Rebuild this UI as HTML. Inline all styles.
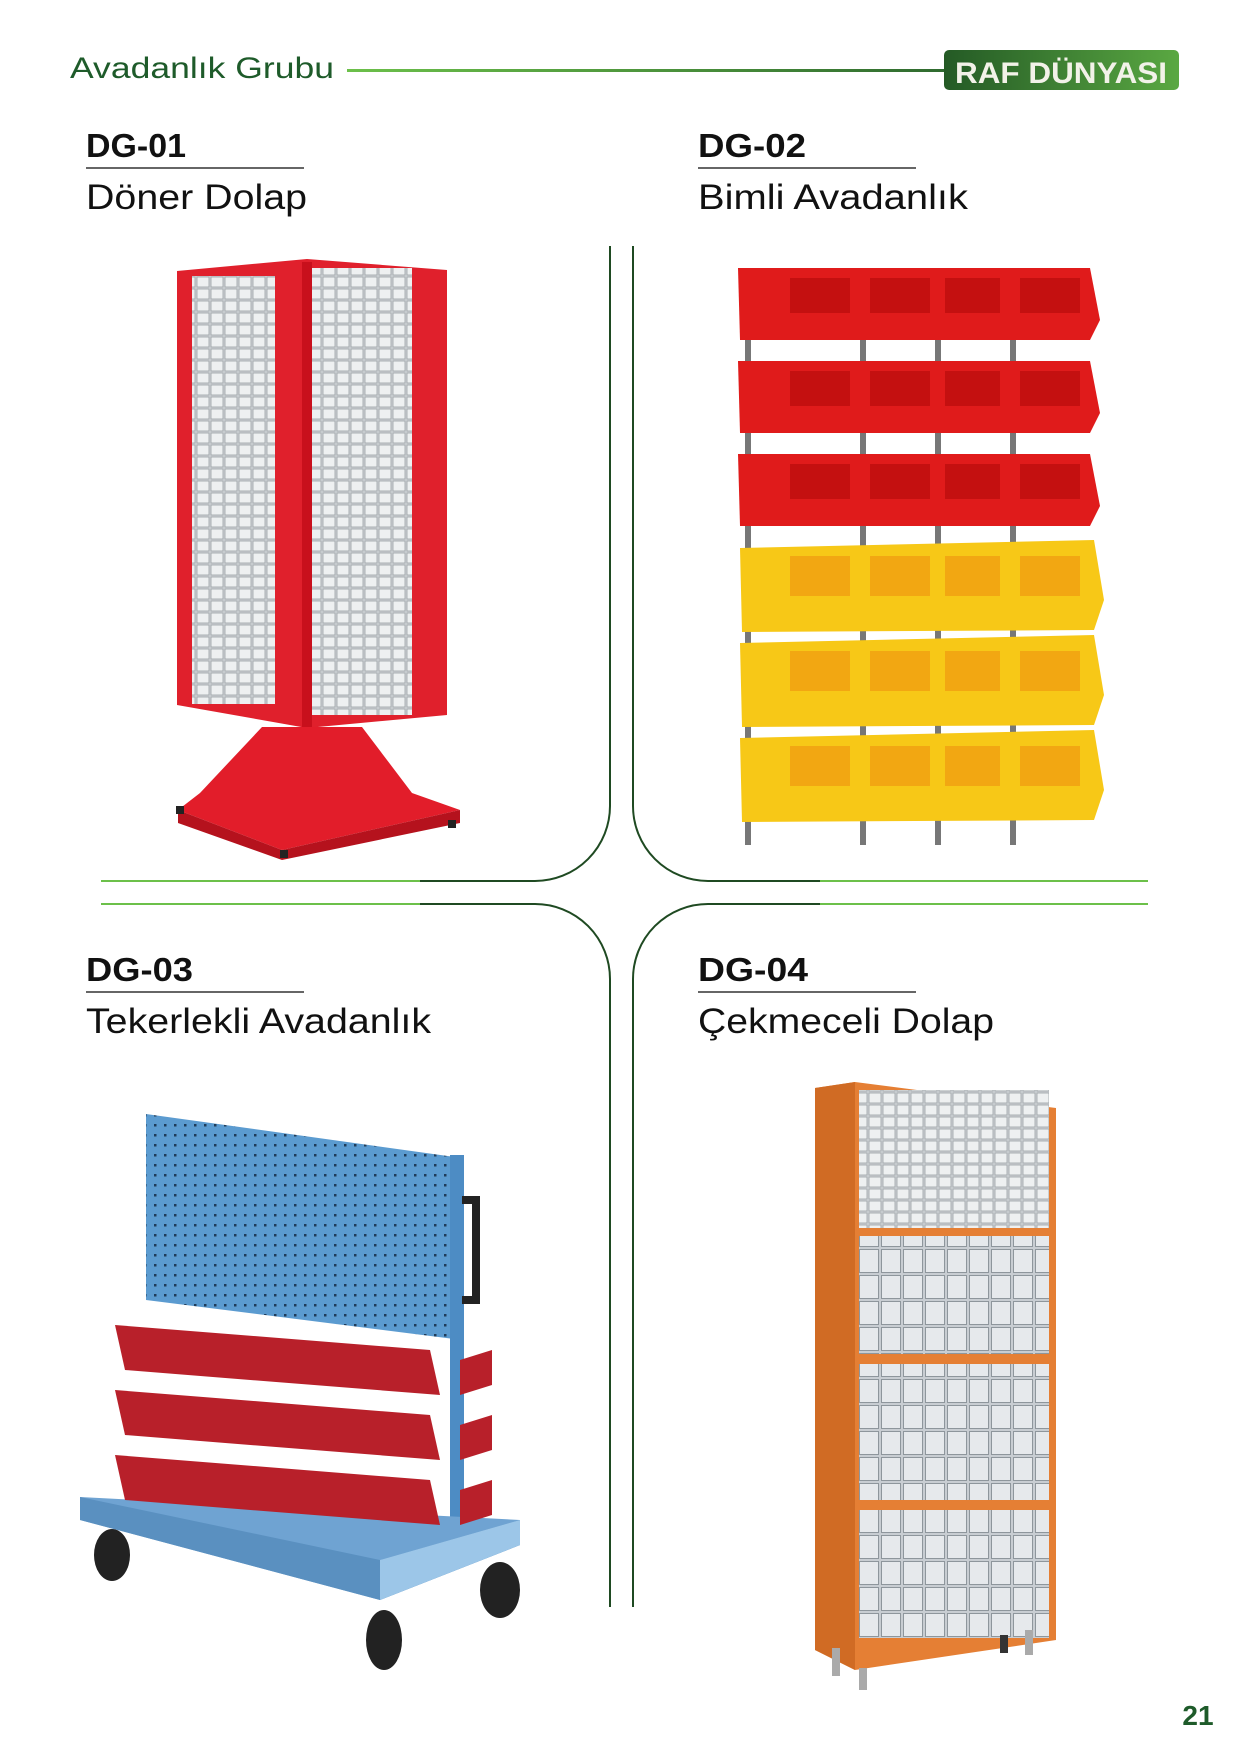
<!DOCTYPE html>
<html><head><meta charset="utf-8"><style>
html,body{margin:0;padding:0;background:#fff}
svg{display:block}
text{font-family:"Liberation Sans",sans-serif}
</style></head><body>
<svg width="1240" height="1754" viewBox="0 0 1240 1754" xmlns="http://www.w3.org/2000/svg">
<defs>
<linearGradient id="hl" x1="0" x2="1"><stop offset="0" stop-color="#6cc04a"/><stop offset="1" stop-color="#2f6a2f"/></linearGradient>
<linearGradient id="bd" x1="0" x2="1"><stop offset="0" stop-color="#245a25"/><stop offset="1" stop-color="#5aa842"/></linearGradient>
<pattern id="grid1" width="14" height="12" patternUnits="userSpaceOnUse"><rect width="14" height="12" fill="#cfd3d6"/><rect x="1" y="1" width="12" height="10" fill="#eef0f1" stroke="#9aa0a4" stroke-width="0.8"/></pattern>
<pattern id="grid4" width="22" height="26" patternUnits="userSpaceOnUse"><rect width="22" height="26" fill="#c8cdd2"/><rect x="1.5" y="1.5" width="19" height="23" fill="#e6e9ec" stroke="#8e969c" stroke-width="1"/></pattern>
<pattern id="peg" width="10" height="10" patternUnits="userSpaceOnUse"><rect width="10" height="10" fill="#5b9bd0"/><rect x="4" y="4" width="2.5" height="2.5" fill="#1f3c5a"/></pattern>
</defs>

<!-- header -->
<text x="70" y="78" font-size="30" fill="#1e5b2a" textLength="264" lengthAdjust="spacingAndGlyphs">Avadanlık Grubu</text>
<rect x="347" y="69" width="600" height="3" fill="url(#hl)"/>
<rect x="944" y="50" width="235" height="40" rx="5" fill="url(#bd)"/>
<text x="955" y="83" font-size="30" font-weight="bold" fill="#f2f2e8" textLength="212" lengthAdjust="spacingAndGlyphs">RAF DÜNYASI</text>

<!-- titles -->
<text x="86" y="157" font-size="33" font-weight="bold" fill="#111" textLength="100" lengthAdjust="spacingAndGlyphs">DG-01</text>
<rect x="86" y="167" width="218" height="2" fill="#666"/>
<text x="86" y="209" font-size="35" fill="#111" textLength="221" lengthAdjust="spacingAndGlyphs">Döner Dolap</text>
<text x="698" y="157" font-size="33" font-weight="bold" fill="#111" textLength="108" lengthAdjust="spacingAndGlyphs">DG-02</text>
<rect x="698" y="167" width="218" height="2" fill="#666"/>
<text x="698" y="209" font-size="35" fill="#111" textLength="270" lengthAdjust="spacingAndGlyphs">Bimli Avadanlık</text>
<text x="86" y="981" font-size="33" font-weight="bold" fill="#111" textLength="107" lengthAdjust="spacingAndGlyphs">DG-03</text>
<rect x="86" y="991" width="218" height="2" fill="#666"/>
<text x="86" y="1033" font-size="35" fill="#111" textLength="345" lengthAdjust="spacingAndGlyphs">Tekerlekli Avadanlık</text>
<text x="698" y="981" font-size="33" font-weight="bold" fill="#111" textLength="110" lengthAdjust="spacingAndGlyphs">DG-04</text>
<rect x="698" y="991" width="218" height="2" fill="#666"/>
<text x="698" y="1033" font-size="35" fill="#111" textLength="296" lengthAdjust="spacingAndGlyphs">Çekmeceli Dolap</text>

<!-- dividers -->
<g fill="none" stroke="#1f4a22" stroke-width="2">
<path d="M610 246 V806 A75 75 0 0 1 535 881 H101"/>
<path d="M633 246 V806 A75 75 0 0 0 708 881 H1148"/>
<path d="M101 904 H535 A75 75 0 0 1 610 979 V1607"/>
<path d="M1148 904 H708 A75 75 0 0 0 633 979 V1607"/>
</g>
<g fill="none" stroke="#6cc04a" stroke-width="2">
<path d="M101 881 H420"/><path d="M101 904 H420"/>
<path d="M820 881 H1148"/><path d="M820 904 H1148"/>
</g>

<text x="1198" y="1725" font-size="28" font-weight="bold" fill="#1e5b2a" text-anchor="middle">21</text>

<!-- DG-01 rotating cabinet -->
<g>
<polygon points="177,271 307,259 447,270 447,715 307,728 177,705" fill="#e0202c"/>
<rect x="192" y="276" width="83" height="428" fill="url(#grid1)"/>
<rect x="312" y="268" width="100" height="447" fill="url(#grid1)"/>
<rect x="302" y="262" width="10" height="465" fill="#c8101c"/>
<polygon points="262,727 362,727 412,793 460,810 282,850 178,810 200,793" fill="#e21d2a"/>
<polygon points="178,810 282,850 460,810 460,823 282,860 178,823" fill="#b5121d"/>
<rect x="280" y="850" width="8" height="8" fill="#222"/><rect x="448" y="820" width="8" height="8" fill="#222"/><rect x="176" y="806" width="8" height="8" fill="#222"/>
</g>

<!-- DG-02 bins -->
<g>
<rect x="745" y="270" width="6" height="575" fill="#777"/>
<rect x="860" y="270" width="6" height="575" fill="#777"/>
<rect x="935" y="270" width="6" height="575" fill="#777"/>
<rect x="1010" y="270" width="6" height="575" fill="#777"/>
<g id="rrow">
<polygon points="738,268 1090,268 1100,320 1090,340 740,340" fill="#e01b1b"/>
<rect x="790" y="278" width="60" height="35" fill="#c41010"/><rect x="870" y="278" width="60" height="35" fill="#c41010"/><rect x="945" y="278" width="55" height="35" fill="#c41010"/><rect x="1020" y="278" width="60" height="35" fill="#c41010"/>
</g>
<use href="#rrow" y="93"/><use href="#rrow" y="186"/>
<g id="yrow">
<polygon points="740,548 1094,540 1104,600 1094,630 742,632" fill="#f7c817"/>
<rect x="790" y="556" width="60" height="40" fill="#f2a712"/><rect x="870" y="556" width="60" height="40" fill="#f2a712"/><rect x="945" y="556" width="55" height="40" fill="#f2a712"/><rect x="1020" y="556" width="60" height="40" fill="#f2a712"/>
</g>
<use href="#yrow" y="95"/><use href="#yrow" y="190"/>
</g>

<!-- DG-03 trolley -->
<g>
<polygon points="146,1114 462,1158 462,1340 146,1300" fill="url(#peg)"/>
<rect x="450" y="1155" width="14" height="390" fill="#4d8cc4"/>
<path d="M462 1200 h14 v100 h-14" fill="none" stroke="#222" stroke-width="8"/>
<polygon points="80,1497 520,1520 520,1545 380,1600 80,1520" fill="#6fa3d2"/>
<polygon points="80,1497 380,1560 520,1520 520,1545 380,1600 80,1520" fill="#5a90c0"/>
<polygon points="380,1560 520,1520 520,1545 380,1600" fill="#9cc6e8"/>
<g fill="#b8202a">
<polygon points="115,1325 430,1350 440,1395 125,1370"/>
<polygon points="115,1390 430,1415 440,1460 125,1435"/>
<polygon points="115,1455 430,1480 440,1525 125,1500"/>
<polygon points="460,1360 492,1350 492,1385 460,1395"/>
<polygon points="460,1425 492,1415 492,1450 460,1460"/>
<polygon points="460,1490 492,1480 492,1515 460,1525"/>
</g>
<g fill="#222"><ellipse cx="112" cy="1555" rx="18" ry="26"/><ellipse cx="384" cy="1640" rx="18" ry="30"/><ellipse cx="500" cy="1590" rx="20" ry="28"/></g>
</g>

<!-- DG-04 drawer cabinet -->
<g>
<polygon points="815,1088 855,1082 1056,1108 1056,1640 855,1670 815,1650" fill="#e57f34"/>
<polygon points="815,1088 855,1082 855,1670 815,1650" fill="#d06b24"/>
<rect x="859" y="1090" width="190" height="138" fill="url(#grid1)"/>
<rect x="859" y="1236" width="190" height="118" fill="url(#grid4)"/>
<rect x="859" y="1364" width="190" height="136" fill="url(#grid4)"/>
<rect x="859" y="1510" width="190" height="128" fill="url(#grid4)"/>
<rect x="832" y="1648" width="8" height="28" fill="#aaa"/><rect x="859" y="1668" width="8" height="22" fill="#aaa"/><rect x="1025" y="1630" width="8" height="25" fill="#aaa"/><rect x="1000" y="1635" width="8" height="18" fill="#333"/>
</g>
</svg>
</body></html>
